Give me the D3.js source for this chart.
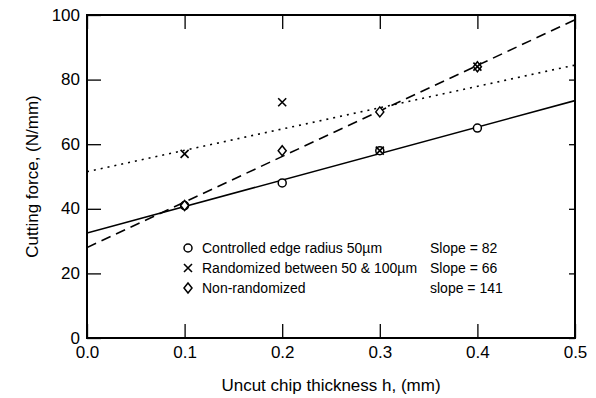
<!DOCTYPE html>
<html lang="en">
<head>
<meta charset="UTF-8">
<script src="https://d3js.org/d3.v7.min.js"></script>
<style>
  body { margin: 0; background: #fff; }
  text { font-family: "Liberation Sans", Arial, sans-serif; fill: #000; }
</style>
</head>
<body>
<svg width="596" height="398"></svg>
<script>
// data
var xTicks = [0.0, 0.1, 0.2, 0.3, 0.4, 0.5];
var yTicks = [0, 20, 40, 60, 80, 100];
var controlled = [[0.1, 41], [0.2, 48], [0.3, 58], [0.4, 65]];
var randomized = [[0.1, 57], [0.2, 73], [0.3, 58], [0.4, 84]];
var nonRandom  = [[0.1, 41], [0.2, 58], [0.3, 70], [0.4, 84]];
// fitted lines: [intercept, slope]
var fitControlled = [32.5, 82];
var fitRandomized = [51.5, 66];
var fitNonRandom  = [28, 141];
var legendLabels = ["Controlled edge radius 50\u00b5m", "Randomized between 50 & 100\u00b5m", "Non-randomized"];
var slopeLabels = ["Slope = 82", "Slope = 66", "slope = 141"];

var svg = d3.select("svg");
var padding = {top: 15, right: 21, bottom: 60, left: 87};
var w = 596 - padding.left - padding.right;
var h = 398 - padding.top - padding.bottom;
var g = svg.append("g").attr("transform", "translate(" + padding.left + "," + padding.top + ")");

var x = d3.scaleLinear().domain([0, 0.5]).range([0, w]);
var y = d3.scaleLinear().domain([0, 100]).range([h, 0]);

// clip for lines
g.append("clipPath").attr("id", "clip").append("rect").attr("width", w).attr("height", h);

// axes with inward ticks
g.append("g").attr("transform", "translate(0," + h + ")")
  .call(d3.axisBottom(x).tickValues(xTicks).tickSizeInner(-14).tickSizeOuter(0).tickPadding(8).tickFormat(d3.format(".1f")))
  .call(function(a) { a.select(".domain").remove(); a.selectAll("text").attr("font-size", "17px").attr("font-family", "Liberation Sans, Arial, sans-serif"); });
g.append("g")
  .call(d3.axisLeft(y).tickValues(yTicks).tickSizeInner(-14).tickSizeOuter(0).tickPadding(7))
  .call(function(a) { a.select(".domain").remove(); a.selectAll("text").attr("font-size", "17px").attr("font-family", "Liberation Sans, Arial, sans-serif").attr("dy", "0.3em"); });
g.append("g")
  .call(d3.axisTop(x).tickValues(xTicks).tickSizeInner(-14).tickSizeOuter(0).tickFormat(""))
  .call(function(a) { a.select(".domain").remove(); });
g.append("g").attr("transform", "translate(" + w + ",0)")
  .call(d3.axisRight(y).tickValues(yTicks).tickSizeInner(-6).tickSizeOuter(0).tickFormat(""))
  .call(function(a) { a.select(".domain").remove(); });

g.selectAll(".tick line").attr("stroke", "#000").attr("stroke-width", 1.3);

// frame
g.append("rect").attr("width", w).attr("height", h)
  .attr("fill", "none").attr("stroke", "#000").attr("stroke-width", 2);

// fit lines
function fitLine(fit, dash) {
  g.append("line")
    .attr("clip-path", "url(#clip)")
    .attr("x1", x(0)).attr("y1", y(fit[0]))
    .attr("x2", x(0.5)).attr("y2", y(fit[0] + fit[1] * 0.5))
    .attr("stroke", "#000").attr("stroke-width", 1.6)
    .attr("stroke-dasharray", dash);
}
fitLine(fitControlled, null);
fitLine(fitRandomized, "2,5");
fitLine(fitNonRandom, "10,6");

// markers
function circles(sel, data) {
  sel.selectAll(null).data(data).enter().append("circle")
    .attr("cx", function(d) { return x(d[0]); }).attr("cy", function(d) { return y(d[1]); })
    .attr("r", 4).attr("fill", "#fff").attr("stroke", "#000").attr("stroke-width", 1.5);
}
function crosses(sel, data) {
  sel.selectAll(null).data(data).enter().append("path")
    .attr("transform", function(d) { return "translate(" + x(d[0]) + "," + y(d[1]) + ")"; })
    .attr("d", "M-4,-4L4,4M-4,4L4,-4").attr("stroke", "#000").attr("stroke-width", 1.6);
}
function diamonds(sel, data) {
  sel.selectAll(null).data(data).enter().append("path")
    .attr("transform", function(d) { return "translate(" + x(d[0]) + "," + y(d[1]) + ")"; })
    .attr("d", "M0,-5L4,0L0,5L-4,0Z").attr("fill", "#fff").attr("stroke", "#000").attr("stroke-width", 1.5);
}
circles(g, controlled);
diamonds(g, nonRandom);
crosses(g, randomized);

// legend
var lx = 101, ly = 233, step = 20;
var leg = g.append("g");
circles(leg, [[x.invert(lx), y.invert(ly)]]);
crosses(leg, [[x.invert(lx), y.invert(ly + step)]]);
diamonds(leg, [[x.invert(lx), y.invert(ly + 2 * step)]]);
leg.selectAll(".lab").data(legendLabels).enter().append("text")
  .attr("x", lx + 14).attr("y", function(d, i) { return ly + i * step; })
  .attr("dy", "0.35em").attr("font-size", "14px")
  .text(function(d) { return d; });
leg.selectAll(".slp").data(slopeLabels).enter().append("text")
  .attr("x", 430 - padding.left).attr("y", function(d, i) { return ly + i * step; })
  .attr("dy", "0.35em").attr("font-size", "14px")
  .text(function(d) { return d; });

// axis titles
svg.append("text").attr("x", padding.left + w / 2).attr("y", 391)
  .attr("text-anchor", "middle").attr("font-size", "17px").text("Uncut chip thickness h, (mm)");
svg.append("text").attr("transform", "translate(38," + (padding.top + h / 2) + ") rotate(-90)")
  .attr("text-anchor", "middle").attr("font-size", "17px").text("Cutting force, (N/mm)");
</script>
</body>
</html>
